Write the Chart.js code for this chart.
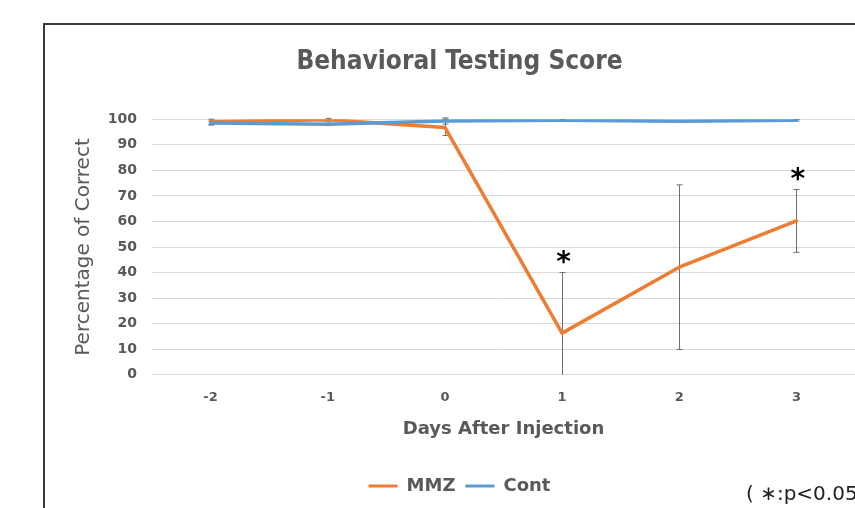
<!DOCTYPE html>
<html><head><meta charset="utf-8">
<script src="https://cdn.jsdelivr.net/npm/chart.js@4.4.1/dist/chart.umd.min.js"></script>
<style>
html,body{margin:0;padding:0;background:#fff;overflow:hidden;}
#wrap{position:relative;width:855px;height:508px;overflow:hidden;}
#frame{position:absolute;left:43px;top:23px;width:1000px;height:1000px;border:2px solid #3a3a3a;box-sizing:border-box;}
canvas{position:absolute;left:0;top:0;}
#note{position:absolute;left:746px;top:481px;font:20px "DejaVu Sans";color:#222;white-space:nowrap;}
</style></head><body>
<div id="wrap"><div id="frame"></div><canvas id="c" width="855" height="508"></canvas><div id="note">( ∗:p&lt;0.05)</div></div>
<script>
const days = ['-2', '-1', '0', '1', '2', '3'];
const mmzMean = [99.0, 99.8, 96.8, 16.3, 42.1, 60.2];
const mmzErr = [1.0, 0.5, 3.2, 23.7, 32.2, 12.3];
const contMean = [98.5, 98.0, 99.3, 99.6, 99.2, 99.6];
const contErr = [0.8, 0.5, 1.2, 0.3, 0.3, 0.3];
const mmzSignificant = [false, false, false, true, false, true];
const yMin = 0, yMax = 100, yStep = 10;

const TEXT = '#595959';

const errorBars = {
  id: 'errorBars',
  beforeDatasetsDraw(chart) {
    const {ctx, chartArea, scales: {x, y}} = chart;
    ctx.save();
    ctx.beginPath();
    ctx.rect(chartArea.left, chartArea.top - 5, chartArea.right - chartArea.left, chartArea.bottom - chartArea.top + 5);
    ctx.clip();
    ctx.strokeStyle = '#707070';
    ctx.lineWidth = 1;
    chart.data.datasets.forEach(ds => {
      ds.err.forEach((e, i) => {
        const m = ds.data[i];
        const px = Math.round(x.getPixelForValue(i)) + 0.5;
        const yt = y.getPixelForValue(m + e);
        const yb = y.getPixelForValue(m - e);
        ctx.beginPath();
        ctx.moveTo(px, yt); ctx.lineTo(px, yb);
        ctx.moveTo(px - 3, yt); ctx.lineTo(px + 3, yt);
        ctx.moveTo(px - 3, yb); ctx.lineTo(px + 3, yb);
        ctx.stroke();
      });
    });
    ctx.restore();
  },
  afterDatasetsDraw(chart) {
    const {ctx, scales: {x, y}} = chart;
    ctx.save();
    ctx.fillStyle = '#000';
    ctx.font = 'bold 28px "DejaVu Sans"';
    ctx.textAlign = 'center';
    ctx.textBaseline = 'alphabetic';
    mmzSignificant.forEach((s, i) => {
      if (!s) return;
      const px = x.getPixelForValue(i);
      const yt = y.getPixelForValue(mmzMean[i] + mmzErr[i]);
      ctx.fillText('*', px + 1.5, yt - 18 + 0.59 * 28);
    });
    ctx.restore();
  }
};

new Chart(document.getElementById('c'), {
  type: 'line',
  data: {
    labels: days,
    datasets: [
      {label: 'MMZ', data: mmzMean, err: mmzErr, borderColor: '#ED7D31', backgroundColor: '#ED7D31', borderWidth: 3.5, pointRadius: 0, borderCapStyle: 'round', borderJoinStyle: 'round', order: 1},
      {label: 'Cont', data: contMean, err: contErr, borderColor: '#5B9BD5', backgroundColor: '#5B9BD5', borderWidth: 3.5, pointRadius: 0, borderCapStyle: 'round', borderJoinStyle: 'round', order: 0}
    ]
  },
  options: {
    responsive: false,
    animation: false,
    events: [],
    layout: {padding: {left: 64, right: 0, top: 24, bottom: 3}},
    plugins: {
      title: {
        display: true, text: 'Behavioral Testing Score', color: TEXT,
        font: {family: '"DejaVu Sans Condensed", "DejaVu Sans"', size: 26, weight: 'bold'},
        padding: {top: 23, bottom: 41}
      },
      legend: {
        position: 'bottom',
        labels: {
          color: TEXT,
          font: {family: '"DejaVu Sans"', size: 18, weight: 'bold'},
          boxWidth: 29, boxHeight: 3, padding: 10,
          sort: (a, b) => a.datasetIndex - b.datasetIndex,
          generateLabels(chart) {
            return chart.data.datasets.map((ds, i) => ({
              text: ds.label, fillStyle: ds.borderColor, strokeStyle: ds.borderColor,
              lineWidth: 0, datasetIndex: i, fontColor: TEXT
            }));
          }
        }
      },
      tooltip: {enabled: false}
    },
    scales: {
      x: {
        offset: true,
        grid: {display: false, drawTicks: false},
        border: {display: false},
        ticks: {color: TEXT, font: {family: '"DejaVu Sans"', size: 13, weight: 'bold'}, padding: 15},
        title: {display: true, text: 'Days After Injection', color: TEXT,
          font: {family: '"DejaVu Sans"', size: 18, weight: 'bold'}, padding: {top: -2, bottom: 27}}
      },
      y: {
        min: yMin, max: yMax,
        grid: {color: '#D9D9D9', lineWidth: 1, drawTicks: false},
        border: {display: false},
        ticks: {stepSize: yStep, color: TEXT, font: {family: '"DejaVu Sans"', size: 14, weight: 'bold'}, padding: 15},
        title: {display: true, text: 'Percentage of Correct', color: TEXT,
          font: {family: '"DejaVu Sans"', size: 20, weight: 'normal'}, padding: {top: 8, bottom: 0}},
        afterFit(scale) { scale.width = 88; }
      }
    }
  },
  plugins: [errorBars]
});
</script>
</body></html>
